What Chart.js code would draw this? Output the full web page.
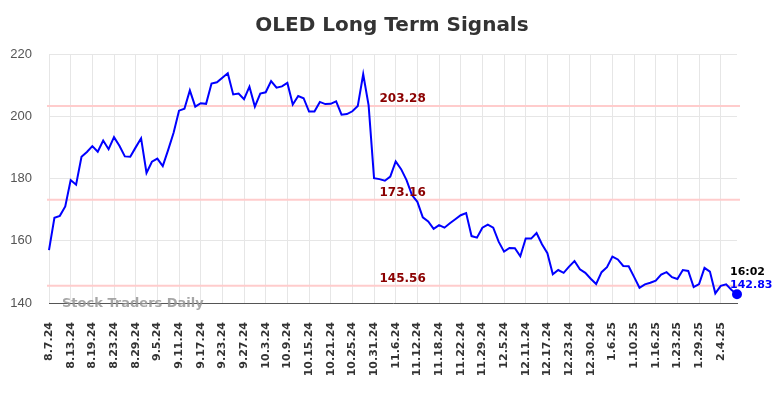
<!DOCTYPE html>
<html>
<head>
<meta charset="utf-8">
<title>OLED Long Term Signals</title>
<script src="https://cdn.jsdelivr.net/npm/chart.js@4/dist/chart.umd.min.js"></script>
<style>
    html, body { margin: 0; padding: 0; background: #fff; }
    #chart { display: block; }
</style>
</head>
<body>
<canvas id="chart" width="784" height="398"></canvas>
<script>
// trading days, 8.7.24 -> 2.7.25
const dates = [
    '8.7.24', '8.8.24', '8.9.24', '8.12.24', '8.13.24', '8.14.24', '8.15.24', '8.16.24', '8.19.24', '8.20.24',
    '8.21.24', '8.22.24', '8.23.24', '8.26.24', '8.27.24', '8.28.24', '8.29.24', '8.30.24', '9.3.24', '9.4.24',
    '9.5.24', '9.6.24', '9.9.24', '9.10.24', '9.11.24', '9.12.24', '9.13.24', '9.16.24', '9.17.24', '9.18.24',
    '9.19.24', '9.20.24', '9.23.24', '9.24.24', '9.25.24', '9.26.24', '9.27.24', '9.30.24', '10.1.24', '10.2.24',
    '10.3.24', '10.4.24', '10.7.24', '10.8.24', '10.9.24', '10.10.24', '10.11.24', '10.14.24', '10.15.24', '10.16.24',
    '10.17.24', '10.18.24', '10.21.24', '10.22.24', '10.23.24', '10.24.24', '10.25.24', '10.28.24', '10.29.24', '10.30.24',
    '10.31.24', '11.1.24', '11.4.24', '11.5.24', '11.6.24', '11.7.24', '11.8.24', '11.11.24', '11.12.24', '11.13.24',
    '11.14.24', '11.15.24', '11.18.24', '11.19.24', '11.20.24', '11.21.24', '11.22.24', '11.25.24', '11.26.24', '11.27.24',
    '11.29.24', '12.2.24', '12.3.24', '12.4.24', '12.5.24', '12.6.24', '12.9.24', '12.10.24', '12.11.24', '12.12.24',
    '12.13.24', '12.16.24', '12.17.24', '12.18.24', '12.19.24', '12.20.24', '12.23.24', '12.24.24', '12.26.24', '12.27.24',
    '12.30.24', '12.31.24', '1.2.25', '1.3.25', '1.6.25', '1.7.25', '1.8.25', '1.9.25', '1.10.25', '1.13.25',
    '1.14.25', '1.15.25', '1.16.25', '1.17.25', '1.21.25', '1.22.25', '1.23.25', '1.24.25', '1.27.25', '1.28.25',
    '1.29.25', '1.30.25', '1.31.25', '2.3.25', '2.4.25', '2.5.25', '2.6.25', '2.7.25'
];

// closing prices
const prices = [
    157.0, 167.4, 168.0, 171.0, 179.5, 178.0, 187.0, 188.5, 190.4, 188.6,
    192.2, 189.4, 193.3, 190.5, 187.1, 187.0, 190.0, 192.9, 181.8, 185.4,
    186.4, 184.0, 189.2, 194.7, 201.8, 202.4, 208.3, 203.1, 204.2, 204.0,
    210.5, 210.9, 212.4, 213.8, 207.0, 207.3, 205.5, 209.5, 203.1, 207.3,
    207.7, 211.3, 209.2, 209.6, 210.7, 203.8, 206.5, 205.8, 201.5, 201.5,
    204.6, 203.9, 204.0, 204.8, 200.5, 200.7, 201.6, 203.3, 213.5, 203.5,
    180.1, 179.8, 179.3, 180.6, 185.5, 183.0, 179.5, 174.7, 172.5, 167.5,
    166.2, 163.8, 165.0, 164.2, 165.6, 166.9, 168.2, 168.9, 161.5, 161.0,
    164.2, 165.2, 164.2, 159.7, 156.5, 157.7, 157.6, 155.0, 160.7, 160.7,
    162.5, 158.9, 156.0, 149.2, 150.6, 149.7, 151.7, 153.5, 150.8, 149.7,
    147.8, 146.1, 149.9, 151.5, 154.9, 154.0, 151.9, 151.8, 148.4, 144.9,
    146.0, 146.5, 147.2, 149.1, 149.9, 148.3, 147.7, 150.6, 150.3, 145.1,
    146.1, 151.3, 150.1, 143.1, 145.5, 146.0, 144.2, 142.83
];

// signal levels
const levels = [203.28, 173.16, 145.56];
const yTicks = [140, 160, 180, 200, 220];
const lastTime = '16:02';
const tickEvery = 4;

const levelPlugin = {
    id: 'levels',
    beforeDatasetsDraw(chart) {
        const { ctx, chartArea, scales: { y } } = chart;
        ctx.save();
        ctx.strokeStyle = '#ffcccc';
        ctx.lineWidth = 2;
        levels.forEach(v => {
            const py = y.getPixelForValue(v);
            ctx.beginPath();
            ctx.moveTo(chartArea.left - 2, py);
            ctx.lineTo(chartArea.right + 3, py);
            ctx.stroke();
        });
        ctx.restore();
    },
    afterDraw(chart) {
        const { ctx, chartArea, scales: { x, y } } = chart;
        ctx.save();
        // level labels
        ctx.font = 'bold 12px "DejaVu Sans"';
        ctx.fillStyle = '#8b0000';
        ctx.textAlign = 'left';
        ctx.textBaseline = 'alphabetic';
        const lx = x.getPixelForValue(61);
        levels.forEach(v => {
            ctx.fillText(v.toFixed(2), lx, y.getPixelForValue(v) - 4);
        });

        // watermark
        ctx.font = 'bold 13px "DejaVu Sans"';
        ctx.fillStyle = 'rgba(150,150,150,0.85)';
        ctx.fillText('Stock Traders Daily', chartArea.left + 13, chartArea.bottom + 4);

        // last price
        const last = prices.length - 1;
        const px = x.getPixelForValue(last);
        const py = y.getPixelForValue(prices[last]);
        ctx.font = 'bold 11px "DejaVu Sans"';
        ctx.fillStyle = '#000';
        ctx.fillText(lastTime, px - 7, py - 19);
        ctx.fillStyle = '#0000ff';
        ctx.fillText(prices[last].toFixed(2), px - 7, py - 6);
        ctx.restore();
    }
};

const ctx = document.getElementById('chart').getContext('2d');
const chart = new Chart(ctx, {
    type: 'line',
    data: {
        labels: dates,
        datasets: [{
            data: prices,
            borderColor: '#0000ff',
            backgroundColor: '#0000ff',
            borderWidth: 2,
            tension: 0,
            pointRadius: c => c.dataIndex === prices.length - 1 ? 4 : 0,
            pointHoverRadius: 0
        }]
    },
    options: {
        responsive: false,
        maintainAspectRatio: false,
        devicePixelRatio: 1,
        animation: false,
        events: [],
        plugins: {
            legend: { display: false },
            tooltip: { enabled: false },
            title: {
                display: true,
                text: 'OLED Long Term Signals',
                color: '#333',
                font: { size: 20, weight: 'bold', family: '"DejaVu Sans"', lineHeight: 1.2 },
                padding: { top: 14, bottom: 16 }
            }
        },
        scales: {
            x: {
                grid: { color: '#e6e6e6', drawTicks: false },
                border: { display: true, color: '#555', width: 1 },
                afterBuildTicks: scale => {
                    scale.ticks = scale.ticks.filter(t => t.value % tickEvery === 0);
                },
                afterFit: scale => { scale.height = 95; },
                ticks: {
                    autoSkip: false,
                    maxRotation: 90,
                    minRotation: 90,
                    padding: 19,
                    color: '#333',
                    font: { size: 11, weight: 'bold', family: '"DejaVu Sans"' }
                }
            },
            y: {
                min: 140,
                max: 220,
                grid: { color: '#e6e6e6', drawTicks: false },
                border: { display: false },
                afterBuildTicks: scale => {
                    scale.ticks = yTicks.map(v => ({ value: v }));
                },
                afterFit: scale => { scale.width = 49; },
                ticks: {
                    padding: 17,
                    color: '#555',
                    font: { size: 13, family: '"Liberation Sans"' }
                }
            },
            // empty right axis, keeps room for the last price label
            yRight: {
                position: 'right',
                min: 140,
                max: 220,
                grid: { display: false },
                border: { display: false },
                ticks: { display: false },
                afterFit: scale => { scale.width = 47; }
            }
        }
    },
    plugins: [levelPlugin]
});
</script>
</body>
</html>
